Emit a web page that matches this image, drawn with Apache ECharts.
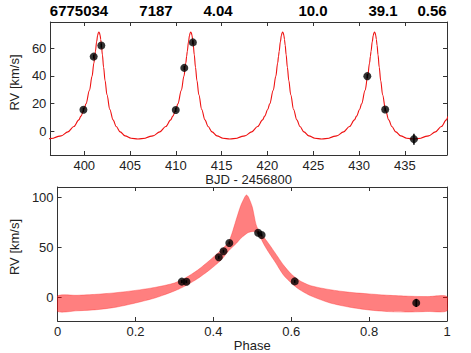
<!DOCTYPE html>
<html>
<head>
<meta charset="utf-8">
<title>RV fit</title>
<script src="https://cdn.jsdelivr.net/npm/echarts@6/dist/echarts.min.js"></script>
<style>
  html, body { margin: 0; padding: 0; background: #fff; }
  #main { width: 471px; height: 353px; }
</style>
</head>
<body>
<div id="main"></div>
<script>
// header numbers
var titleNums = ['6775034', '7187', '4.04', '10.0', '39.1', '0.56'];
var titleX = [79, 156, 218, 313, 383, 432];

// observations
var obsBjd = [399.91, 401.03, 401.86, 409.99, 410.92, 411.86, 430.90, 432.85, 435.99];
var obsPhase = [0.319, 0.441, 0.524, 0.331, 0.426, 0.515, 0.414, 0.609, 0.921];
var obsRv = [15.4, 54.0, 62.0, 15.3, 45.8, 64.3, 39.8, 15.6, -5.9];
var obsErr = [1.5, 1.5, 1.5, 1.5, 1.5, 1.5, 1.5, 1.5, 4.0];

// model curve: one orbit, days from the RV peak
var cycleDt = [-4.935, -4.129, -3.381, -2.731, -2.192, -1.962, -1.632, -1.414, -1.028, -0.750,
  -0.544, -0.452, -0.382, -0.250, -0.136, -0.067, 0, 0.065, 0.130, 0.197, 0.275, 0.380,
  0.512, 0.674, 0.880, 1.193, 1.544, 1.887, 2.322, 2.861, 3.511, 4.259, 5.065];
var cycleRv = [-5.2, -3.5, -0.6, 3.3, 8.1, 10.8, 15.6, 19.7, 29.6, 39.7,
  49.4, 54.2, 57.9, 64.8, 69.5, 71.2, 71.8, 71.2, 69.5, 66.6, 62.2, 55.3,
  46.3, 36.4, 26.3, 15.6, 8.1, 3.3, -0.6, -3.5, -5.2, -5.8, -5.2];
var peakBjd = [391.57, 401.60, 411.63, 421.66, 431.69, 441.72];

// phase-folded model band
var bandPhase = [0, 0.05, 0.1, 0.15, 0.2, 0.25, 0.3, 0.33, 0.36, 0.39, 0.42, 0.44, 0.46, 0.47,
  0.48, 0.485, 0.49, 0.5, 0.51, 0.52, 0.53, 0.54, 0.56, 0.58, 0.6, 0.62, 0.65, 0.7, 0.75,
  0.8, 0.85, 0.9, 0.95, 1.0];
var bandHigh = [1.0, 1.7, 2.7, 4.3, 6.6, 9.6, 14.0, 19.5, 27, 36.5, 47, 55.5, 79, 91,
  99.5, 102, 100, 90, 72, 64, 59.5, 54.5, 43.3, 32, 23, 16.7, 11.3, 7.3, 4.7,
  3.1, 1.7, 0.8, 0.4, 0.5];
var bandLow = [-14.3, -13.8, -12.7, -10.2, -6.0, -1.0, 6.0, 11.5, 18.5, 27, 37, 46.5, 54, 58.5,
  61.8, 63.3, 64.5, 65.5, 65, 60, 52.5, 46, 34.2, 22, 14, 7.7, 1.2, -6, -10.2,
  -13, -14.6, -15, -14.5, -13.8];

var bjdTicks = [400, 405, 410, 415, 420, 425, 430, 435];
var rvTicksTop = [0, 20, 40, 60];
var rvTicksBottom = [0, 50, 100];

var FONT = 'Liberation Sans';
var axisColor = '#333';

// build the model line from the cycle table
var modelLine = [];
peakBjd.forEach(function (p) {
  for (var i = 0; i < cycleDt.length; i++) modelLine.push([p + cycleDt[i], cycleRv[i]]);
});

function xy(xs, ys) {
  return xs.map(function (x, i) { return [x, ys[i]]; });
}

function errorBars(xs, ys, es, xi, yi) {
  return {
    type: 'custom', xAxisIndex: xi, yAxisIndex: yi, z: 4,
    data: xs.map(function (x, i) { return [x, ys[i] - es[i], ys[i] + es[i]]; }),
    encode: { x: 0, y: [1, 2] },
    renderItem: function (params, api) {
      var lo = api.coord([api.value(0), api.value(1)]);
      var hi = api.coord([api.value(0), api.value(2)]);
      return {
        type: 'line',
        shape: { x1: lo[0], y1: lo[1], x2: hi[0], y2: hi[1] },
        style: { stroke: '#000', lineWidth: 1.5 }
      };
    }
  };
}

// the band is one filled polygon: upper edge left->right, lower edge back
var bandSeries = {
  type: 'custom', xAxisIndex: 2, yAxisIndex: 2, z: 2, clip: true,
  data: bandPhase.map(function (p, i) { return [p, bandLow[i], bandHigh[i]]; }),
  encode: { x: 0, y: [1, 2] },
  renderItem: function (params, api) {
    if (params.dataIndex !== 0) return null;
    var pts = [];
    for (var i = 0; i < bandPhase.length; i++) pts.push(api.coord([bandPhase[i], bandHigh[i]]));
    for (var j = bandPhase.length - 1; j >= 0; j--) pts.push(api.coord([bandPhase[j], bandLow[j]]));
    return {
      type: 'polygon',
      shape: { points: pts, smooth: 0.25 },
      style: { fill: 'rgba(255,0,0,0.5)', stroke: 'rgba(255,40,40,0.6)', lineWidth: 0.6 }
    };
  }
};

function mainAxis(base, ticks, extra) {
  var a = {
    axisLine: { show: true, onZero: false, lineStyle: { color: axisColor, width: 1 } },
    axisTick: { show: true, inside: true, length: 4, lineStyle: { color: axisColor } },
    axisLabel: { show: true, margin: 4, color: '#222', fontFamily: FONT, fontSize: 13 },
    splitLine: { show: false }
  };
  if (ticks) {
    a.axisTick.customValues = ticks;
    a.axisLabel.customValues = ticks;
  }
  return Object.assign(a, base, extra || {});
}

function mirrorAxis(base, ticks) {
  var a = mainAxis(base, ticks);
  a.axisLabel = { show: false };
  if (ticks) a.axisLabel.customValues = ticks;
  return a;
}

var xTopRange = { type: 'value', min: 396.3, max: 439.6, gridIndex: 0 };
var yTopRange = { type: 'value', min: -17.4, max: 79.1, gridIndex: 0 };
var xBotRange = { type: 'value', min: 0, max: 1, interval: 0.2, gridIndex: 1 };
var yBotRange = { type: 'value', min: -24, max: 110, gridIndex: 1 };

var option = {
  backgroundColor: '#fff',
  animation: false,
  grid: [
    { left: 47, right: 24, top: 22, height: 133 },
    { left: 47, right: 24, top: 187, height: 134 }
  ],
  graphic: titleNums.map(function (t, i) {
    return {
      type: 'text', x: titleX[i], y: 10,
      style: {
        text: t, fill: '#000', align: 'center', verticalAlign: 'middle',
        font: 'bold 15px "' + FONT + '"'
      }
    };
  }),
  xAxis: [
    mainAxis(Object.assign({ position: 'bottom' }, xTopRange), bjdTicks, {
      name: 'BJD - 2456800', nameLocation: 'middle', nameGap: 16,
      nameTextStyle: { color: '#222', fontFamily: FONT, fontSize: 13 }
    }),
    mirrorAxis(Object.assign({ position: 'top' }, xTopRange), bjdTicks),
    mainAxis(Object.assign({ position: 'bottom' }, xBotRange), null, {
      name: 'Phase', nameLocation: 'middle', nameGap: 16,
      nameTextStyle: { color: '#222', fontFamily: FONT, fontSize: 13 }
    }),
    mirrorAxis(Object.assign({ position: 'top' }, xBotRange), null)
  ],
  yAxis: [
    mainAxis(Object.assign({ position: 'left' }, yTopRange), rvTicksTop, {
      name: 'RV [km/s]', nameLocation: 'middle', nameGap: 22, nameRotate: 90,
      nameTextStyle: { color: '#222', fontFamily: FONT, fontSize: 13, padding: [0, 0, 0, 12] }
    }),
    mirrorAxis(Object.assign({ position: 'right' }, yTopRange), rvTicksTop),
    mainAxis(Object.assign({ position: 'left' }, yBotRange), rvTicksBottom, {
      name: 'RV [km/s]', nameLocation: 'middle', nameGap: 22, nameRotate: 90,
      nameTextStyle: { color: '#222', fontFamily: FONT, fontSize: 13, padding: [0, 0, 0, 14] }
    }),
    mirrorAxis(Object.assign({ position: 'right' }, yBotRange), rvTicksBottom)
  ],
  series: [
    {
      // model curve
      type: 'line', xAxisIndex: 0, yAxisIndex: 0, data: modelLine,
      showSymbol: false, smooth: 0.35, smoothMonotone: 'x', clip: true,
      lineStyle: { color: '#ee1111', width: 1.1 }, z: 2
    },
    errorBars(obsBjd, obsRv, obsErr, 0, 0),
    {
      type: 'scatter', xAxisIndex: 0, yAxisIndex: 0, data: xy(obsBjd, obsRv),
      symbol: 'circle', symbolSize: 8, itemStyle: { color: '#000' }, z: 5
    },
    bandSeries,
    errorBars(obsPhase, obsRv, obsErr, 2, 2),
    {
      type: 'scatter', xAxisIndex: 2, yAxisIndex: 2, data: xy(obsPhase, obsRv),
      symbol: 'circle', symbolSize: 8, itemStyle: { color: '#000' }, z: 5
    }
  ]
};

var chart = echarts.init(document.getElementById('main'), null, { renderer: 'svg' });
chart.setOption(option);
</script>
</body>
</html>
